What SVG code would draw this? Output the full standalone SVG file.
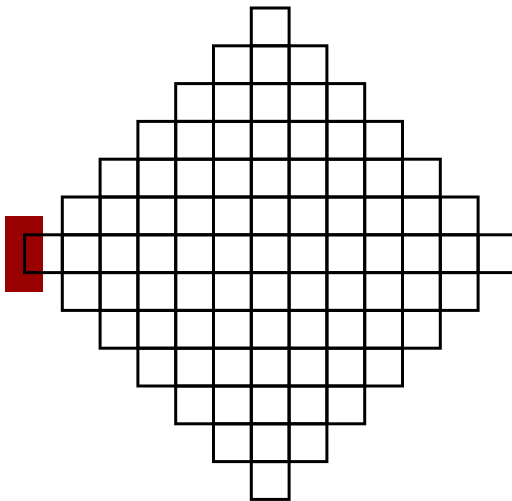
<svg xmlns="http://www.w3.org/2000/svg" width="512" height="501" viewBox="0 0 512 501">
<style>
.c{fill:none;stroke:#000;stroke-width:3}
</style>
<defs><rect id="cell" class="c" width="37.8" height="37.8"/></defs>
<rect width="512" height="501" fill="#fff"/>
<g id="marker"><rect x="5" y="216" width="38" height="76" fill="#990000"/></g>
<g id="grid">
<g id="r0"><use href="#cell" x="251.3" y="8"/></g>
<g id="r1"><use href="#cell" x="213.5" y="45.8"/><use href="#cell" x="251.3" y="45.8"/><use href="#cell" x="289.1" y="45.8"/></g>
<g id="r2"><use href="#cell" x="175.7" y="83.6"/><use href="#cell" x="213.5" y="83.6"/><use href="#cell" x="251.3" y="83.6"/><use href="#cell" x="289.1" y="83.6"/><use href="#cell" x="326.9" y="83.6"/></g>
<g id="r3"><use href="#cell" x="137.9" y="121.4"/><use href="#cell" x="175.7" y="121.4"/><use href="#cell" x="213.5" y="121.4"/><use href="#cell" x="251.3" y="121.4"/><use href="#cell" x="289.1" y="121.4"/><use href="#cell" x="326.9" y="121.4"/><use href="#cell" x="364.7" y="121.4"/></g>
<g id="r4"><use href="#cell" x="100.1" y="159.2"/><use href="#cell" x="137.9" y="159.2"/><use href="#cell" x="175.7" y="159.2"/><use href="#cell" x="213.5" y="159.2"/><use href="#cell" x="251.3" y="159.2"/><use href="#cell" x="289.1" y="159.2"/><use href="#cell" x="326.9" y="159.2"/><use href="#cell" x="364.7" y="159.2"/><use href="#cell" x="402.5" y="159.2"/></g>
<g id="r5"><use href="#cell" x="62.3" y="197"/><use href="#cell" x="100.1" y="197"/><use href="#cell" x="137.9" y="197"/><use href="#cell" x="175.7" y="197"/><use href="#cell" x="213.5" y="197"/><use href="#cell" x="251.3" y="197"/><use href="#cell" x="289.1" y="197"/><use href="#cell" x="326.9" y="197"/><use href="#cell" x="364.7" y="197"/><use href="#cell" x="402.5" y="197"/><use href="#cell" x="440.3" y="197"/></g>
<g id="r6"><use href="#cell" x="24.5" y="234.8"/><use href="#cell" x="62.3" y="234.8"/><use href="#cell" x="100.1" y="234.8"/><use href="#cell" x="137.9" y="234.8"/><use href="#cell" x="175.7" y="234.8"/><use href="#cell" x="213.5" y="234.8"/><use href="#cell" x="251.3" y="234.8"/><use href="#cell" x="289.1" y="234.8"/><use href="#cell" x="326.9" y="234.8"/><use href="#cell" x="364.7" y="234.8"/><use href="#cell" x="402.5" y="234.8"/><use href="#cell" x="440.3" y="234.8"/><use href="#cell" x="478.1" y="234.8"/></g>
<g id="r7"><use href="#cell" x="62.3" y="272.6"/><use href="#cell" x="100.1" y="272.6"/><use href="#cell" x="137.9" y="272.6"/><use href="#cell" x="175.7" y="272.6"/><use href="#cell" x="213.5" y="272.6"/><use href="#cell" x="251.3" y="272.6"/><use href="#cell" x="289.1" y="272.6"/><use href="#cell" x="326.9" y="272.6"/><use href="#cell" x="364.7" y="272.6"/><use href="#cell" x="402.5" y="272.6"/><use href="#cell" x="440.3" y="272.6"/></g>
<g id="r8"><use href="#cell" x="100.1" y="310.4"/><use href="#cell" x="137.9" y="310.4"/><use href="#cell" x="175.7" y="310.4"/><use href="#cell" x="213.5" y="310.4"/><use href="#cell" x="251.3" y="310.4"/><use href="#cell" x="289.1" y="310.4"/><use href="#cell" x="326.9" y="310.4"/><use href="#cell" x="364.7" y="310.4"/><use href="#cell" x="402.5" y="310.4"/></g>
<g id="r9"><use href="#cell" x="137.9" y="348.2"/><use href="#cell" x="175.7" y="348.2"/><use href="#cell" x="213.5" y="348.2"/><use href="#cell" x="251.3" y="348.2"/><use href="#cell" x="289.1" y="348.2"/><use href="#cell" x="326.9" y="348.2"/><use href="#cell" x="364.7" y="348.2"/></g>
<g id="r10"><use href="#cell" x="175.7" y="386"/><use href="#cell" x="213.5" y="386"/><use href="#cell" x="251.3" y="386"/><use href="#cell" x="289.1" y="386"/><use href="#cell" x="326.9" y="386"/></g>
<g id="r11"><use href="#cell" x="213.5" y="423.8"/><use href="#cell" x="251.3" y="423.8"/><use href="#cell" x="289.1" y="423.8"/></g>
<g id="r12"><use href="#cell" x="251.3" y="461.6"/></g>
</g>
</svg>
